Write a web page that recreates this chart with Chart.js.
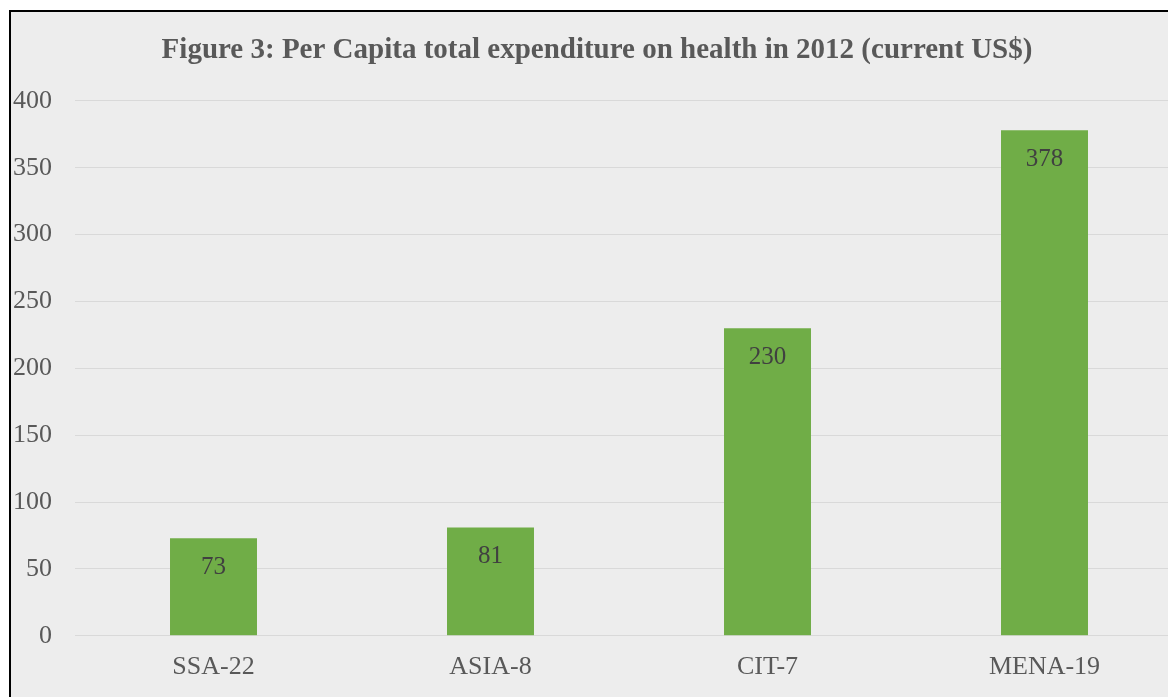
<!DOCTYPE html>
<html>
<head>
<meta charset="utf-8">
<script src="https://cdn.jsdelivr.net/npm/chart.js@4"></script>
<style>
  html, body { margin: 0; padding: 0; background: #ffffff; overflow: hidden; }
  #frame {
    position: absolute;
    left: 9px;
    top: 10px;
    width: 1190px;
    height: 700px;
    border: 2px solid #000000;
    background: #ededed;
  }
  #chartBox { position: absolute; left: 0; top: 0; width: 1190px; height: 700px; }
</style>
</head>
<body>
<div id="frame">
  <div id="chartBox"><canvas id="healthChart"></canvas></div>
</div>
<script>
const titleText = "Figure 3: Per Capita total expenditure on health in 2012 (current US$)";
const regions = ["SSA-22", "ASIA-8", "CIT-7", "MENA-19"];
const spending = [73, 81, 230, 378];
const yTicks = [0, 50, 100, 150, 200, 250, 300, 350, 400];

const serif = "'Liberation Serif', 'Times New Roman', serif";

// draws the value inside the top of each bar
const barValues = {
  id: "barValues",
  afterDatasetsDraw(chart) {
    const ctx = chart.ctx;
    const meta = chart.getDatasetMeta(0);
    ctx.save();
    ctx.font = "25px " + serif;
    ctx.fillStyle = "#404040";
    ctx.textAlign = "center";
    ctx.textBaseline = "middle";
    meta.data.forEach((bar, i) => {
      ctx.fillText(String(spending[i]), bar.x, bar.y + 29);
    });
    ctx.restore();
  }
};

const ctx = document.getElementById("healthChart").getContext("2d");
new Chart(ctx, {
  type: "bar",
  data: {
    labels: regions,
    datasets: [
      {
        label: "Per capita",
        data: spending,
        backgroundColor: "#70ad47",
        borderWidth: 0,
        categoryPercentage: 1,
        barPercentage: 0.314,
      },
    ],
  },
  options: {
    responsive: true,
    maintainAspectRatio: false,
    animation: false,
    layout: { padding: { left: 0, right: 18, top: 0, bottom: 21 } },
    plugins: {
      legend: { display: false },
      tooltip: { enabled: false },
      title: {
        display: true,
        text: titleText,
        color: "#595959",
        font: { family: serif, size: 29, weight: "bold" },
        padding: { top: 21, bottom: 33 },
      },
    },
    scales: {
      x: {
        grid: { display: false },
        border: { display: false },
        ticks: {
          color: "#595959",
          font: { family: serif, size: 26 },
          padding: 8,
        },
      },
      y: {
        min: 0,
        max: 400,
        afterFit(scale) { scale.width = 64; },
        afterBuildTicks(scale) { scale.ticks = yTicks.map(v => ({ value: v })); },
        grid: { color: "#d9d9d9", lineWidth: 1, drawTicks: false },
        border: { display: false },
        ticks: {
          color: "#595959",
          font: { family: serif, size: 26 },
          padding: 23,
        },
      },
    },
  },
  plugins: [barValues],
});
</script>
</body>
</html>
